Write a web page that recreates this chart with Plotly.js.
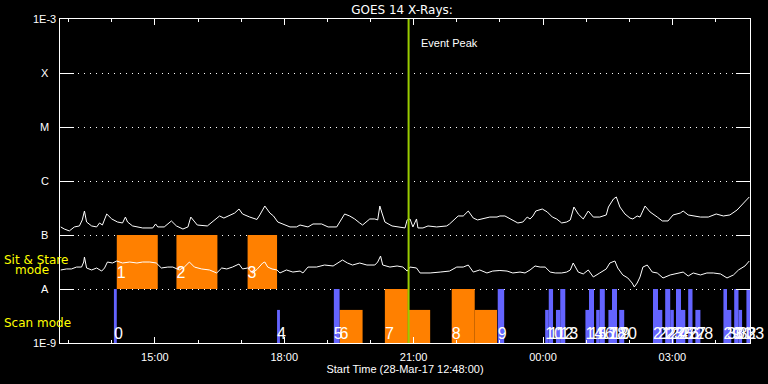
<!DOCTYPE html>
<html><head><meta charset="utf-8">
<script src="https://cdn.plot.ly/plotly-3.0.1.min.js"></script>
<style>html,body{margin:0;padding:0;background:#000;}#chart{width:768px;height:384px;}</style>
</head><body><div id="chart"></div>
<script>
const SANS = 'Liberation Sans, Arial, sans-serif';
const DEJA = 'DejaVu Sans, sans-serif';

const xrayStart = '2017-03-28 12:48';
const xrayEnd = '2017-03-29 04:48';
const eventPeak = '20:53';

// GOES 14 long channel (1-8 A), W/m^2
const longTime = ['12:49','12:54','13:01','13:08','13:15','13:19','13:22','13:25','13:32','13:39','13:43','13:47','13:53','14:00','14:08','14:15','14:19','14:22','14:29','14:43','14:57','15:01','15:04','15:13','15:23','15:30','15:39','15:46','15:50','15:55','15:59','16:13','16:20','16:30','16:36','16:44','16:51','16:57','17:02','17:12','17:22','17:26','17:33','17:40','17:45','17:51','17:58','18:08','18:17','18:22','18:33','18:40','18:52','19:01','19:13','19:21','19:24','19:31','19:38','19:45','19:49','19:59','20:06','20:10','20:13','20:16','20:20','20:30','20:38','20:48','20:51','20:55','20:59','21:04','21:06','21:13','21:20','21:32','21:46','21:50','22:02','22:09','22:16','22:23','22:29','22:39','22:46','22:56','23:00','23:07','23:17','23:25','23:32','23:38','23:42','23:46','23:50','23:59','00:06','00:13','00:19','00:26','00:33','00:38','00:43','00:49','00:56','01:03','01:10','01:19','01:28','01:31','01:38','01:42','01:47','01:54','02:01','02:05','02:11','02:15','02:22','02:29','02:39','02:46','02:54','03:01','03:11','03:15','03:22','03:29','03:39','03:50','04:01','04:11','04:20','04:30','04:39','04:47'];
const longFlux = [1.41e-7,1.29e-7,1.19e-7,1.41e-7,1.47e-7,1.90e-7,2.78e-7,1.74e-7,1.47e-7,1.41e-7,1.67e-7,1.53e-7,2.45e-7,1.98e-7,1.74e-7,1.67e-7,2.15e-7,1.74e-7,1.47e-7,1.35e-7,1.35e-7,1.60e-7,1.41e-7,1.41e-7,1.82e-7,1.47e-7,1.29e-7,1.41e-7,2.15e-7,1.82e-7,1.53e-7,1.47e-7,1.74e-7,2.25e-7,2.06e-7,2.35e-7,2.55e-7,3.03e-7,2.45e-7,2.15e-7,1.94e-7,2.35e-7,3.44e-7,2.55e-7,2.25e-7,1.74e-7,1.60e-7,1.41e-7,1.41e-7,1.53e-7,1.41e-7,1.60e-7,1.60e-7,1.41e-7,1.41e-7,2.15e-7,2.45e-7,2.25e-7,1.98e-7,1.67e-7,1.53e-7,1.98e-7,1.98e-7,1.90e-7,3.44e-7,2.55e-7,1.74e-7,1.47e-7,1.41e-7,1.35e-7,1.90e-7,1.98e-7,1.41e-7,1.98e-7,1.35e-7,1.35e-7,1.47e-7,1.41e-7,1.47e-7,1.60e-7,2.25e-7,2.25e-7,2.78e-7,2.06e-7,1.90e-7,2.06e-7,2.15e-7,2.15e-7,2.25e-7,2.25e-7,1.90e-7,1.67e-7,1.74e-7,2.15e-7,1.98e-7,2.25e-7,2.78e-7,3.03e-7,2.67e-7,2.15e-7,1.98e-7,1.67e-7,1.74e-7,1.90e-7,3.30e-7,2.45e-7,1.98e-7,2.78e-7,2.15e-7,2.15e-7,2.35e-7,3.30e-7,4.64e-7,5.06e-7,3.30e-7,2.45e-7,2.06e-7,1.98e-7,2.25e-7,2.15e-7,3.44e-7,2.67e-7,2.15e-7,1.82e-7,1.82e-7,2.35e-7,2.55e-7,2.78e-7,2.35e-7,2.25e-7,2.15e-7,2.15e-7,2.45e-7,2.25e-7,2.35e-7,2.90e-7,3.92e-7,5.06e-7];

// GOES 14 short channel (0.5-4 A), W/m^2
const shortTime = ['12:49','12:57','13:04','13:11','13:18','13:21','13:22','13:25','13:32','13:39','13:46','13:50','13:54','14:01','14:07','14:15','14:25','14:35','14:43','14:53','15:02','15:09','15:18','15:25','15:34','15:41','15:48','15:55','16:05','16:16','16:26','16:33','16:40','16:48','16:57','17:02','17:09','17:16','17:22','17:30','17:33','17:37','17:43','17:50','17:54','18:03','18:12','18:22','18:26','18:33','18:45','18:56','19:08','19:17','19:21','19:28','19:35','19:45','19:55','20:06','20:10','20:14','20:17','20:27','20:37','20:45','20:51','20:55','21:04','21:09','21:23','21:37','21:50','22:00','22:09','22:16','22:23','22:32','22:42','22:50','23:00','23:10','23:18','23:28','23:35','23:42','23:49','23:56','00:03','00:10','00:17','00:26','00:33','00:38','00:42','00:49','00:56','01:03','01:10','01:19','01:28','01:33','01:40','01:44','01:51','01:58','02:04','02:07','02:11','02:15','02:19','02:25','02:32','02:39','02:47','02:57','03:07','03:15','03:22','03:29','03:39','03:48','03:57','04:07','04:16','04:25','04:32','04:41','04:47'];
const shortFlux = [2.25e-8,2.35e-8,2.35e-8,2.55e-8,2.55e-8,3.16e-8,3.91e-8,2.45e-8,2.25e-8,2.45e-8,2.15e-8,2.45e-8,3.16e-8,3.03e-8,3.30e-8,3.03e-8,3.16e-8,3.03e-8,3.16e-8,3.16e-8,3.03e-8,2.45e-8,2.55e-8,2.55e-8,2.25e-8,2.55e-8,3.16e-8,2.55e-8,2.35e-8,2.25e-8,1.98e-8,2.45e-8,2.35e-8,2.55e-8,2.90e-8,2.35e-8,2.45e-8,1.98e-8,2.30e-8,3.03e-8,3.16e-8,2.55e-8,2.35e-8,2.25e-8,1.98e-8,2.25e-8,2.06e-8,2.15e-8,1.98e-8,2.55e-8,2.55e-8,2.78e-8,2.67e-8,3.16e-8,3.44e-8,3.03e-8,2.78e-8,3.03e-8,2.78e-8,2.78e-8,3.16e-8,4.08e-8,2.78e-8,2.55e-8,2.67e-8,2.55e-8,2.15e-8,2.55e-8,2.45e-8,1.98e-8,1.98e-8,2.06e-8,2.15e-8,2.55e-8,2.55e-8,2.78e-8,2.06e-8,2.25e-8,1.98e-8,2.15e-8,2.20e-8,2.15e-8,1.98e-8,2.06e-8,1.98e-8,2.25e-8,2.67e-8,2.55e-8,2.55e-8,2.06e-8,1.98e-8,1.98e-8,2.06e-8,2.25e-8,3.03e-8,2.06e-8,1.90e-8,2.25e-8,1.67e-8,1.98e-8,2.35e-8,3.03e-8,3.30e-8,2.45e-8,1.82e-8,1.60e-8,1.29e-8,1.09e-8,1.29e-8,1.67e-8,2.55e-8,2.78e-8,2.06e-8,1.98e-8,1.60e-8,1.82e-8,1.98e-8,2.06e-8,1.74e-8,1.98e-8,1.82e-8,1.98e-8,1.98e-8,1.90e-8,1.60e-8,1.82e-8,2.25e-8,2.67e-8,3.30e-8];

// Scan mode observations (blue)
const scanLabel = ['0','4','5','9','10','11','12','13','14','15','16','17','18','19','20','21','22','23','24','25','26','27','28','29','30','31','32','33','34'];
const scanStart = ['14:03','17:50','19:09','22:57','00:03','00:08','00:18','00:24','00:59','01:04','01:14','01:19','01:31','01:36','01:46','02:33','02:40','02:50','02:57','03:05','03:12','03:22','03:32','04:11','04:16','04:26','04:32','04:43','04:50'];
const scanEnd   = ['14:07','17:54','19:17','23:06','00:08','00:14','00:24','00:31','01:04','01:11','01:19','01:26','01:36','01:43','01:53','02:40','02:46','02:57','03:02','03:12','03:18','03:28','03:39','04:16','04:22','04:32','04:37','04:50','04:55'];
const scanBase  = [1e-9,1e-9,1e-9,1e-9,1e-9,1e-9,1e-9,1e-9,1e-9,1e-9,1e-9,1e-9,1e-9,1e-9,1e-9,1e-9,1e-9,1e-9,1e-9,1e-9,1e-9,1e-9,1e-9,1e-9,1e-9,1e-9,1e-9,1e-9,1e-9];
const scanTop   = [1e-8,4.1e-9,1e-8,1e-8,4.1e-9,1e-8,4.1e-9,1e-8,4.1e-9,1e-8,4.1e-9,1e-8,4.1e-9,1e-8,4.1e-9,1e-8,4.1e-9,1e-8,4.1e-9,1e-8,4.1e-9,1e-8,4.1e-9,1e-8,4.1e-9,1e-8,4.1e-9,1e-8,4.1e-9];

// Sit & Stare observations (orange)
const sitLabel = ['1','2','3','6','7','','8',''];
const sitStart = ['14:07','15:30','17:09','19:17','20:20','20:52','21:53','22:25'];
const sitEnd   = ['15:04','16:27','17:50','19:49','20:52','21:23','22:25','22:56'];
const sitBase  = [1e-8,1e-8,1e-8,1e-9,1e-9,1e-9,1e-9,1e-9];
const sitTop   = [1e-7,1e-7,1e-7,4.1e-9,1e-8,4.1e-9,1e-8,4.1e-9];

const yTickVals = [1e-9,1e-8,1e-7,1e-6,1e-5,1e-4,1e-3];
const yTickText = ['1E-9','A','B','C','M','X','1E-3'];

function toDate(hm){ const h = parseInt(hm.slice(0,2),10); return (h >= 12 ? '2017-03-28 ' : '2017-03-29 ') + hm; }
function ms(hm){ return new Date(toDate(hm).replace(' ','T') + ':00Z').getTime(); }

function barTrace(start, end, base, top, color){
  return {type:'bar', x:start.map(toDate), width:start.map((s,i)=>ms(end[i])-ms(s)), offset:0,
    base:base, y:top.map((t,i)=>t-base[i]), marker:{color:color, line:{width:0}},
    cliponaxis:false, hoverinfo:'skip'};
}

const labT = [], labY = [], labS = [];
function addLabels(lbl, start, base){
  lbl.forEach((l,i)=>{ if(!l) return; labT.push(toDate(start[i])); labY.push(base[i] > 5e-9 ? 1.35e-8 : 1e-9); labS.push(l); });
}
addLabels(sitLabel, sitStart, sitBase);
addLabels(scanLabel, scanStart, scanBase);

const data = [
  barTrace(sitStart, sitEnd, sitBase, sitTop, '#ff8000'),
  barTrace(scanStart, scanEnd, scanBase, scanTop, '#6464ff'),
  {type:'scatter', mode:'lines', x:longTime.map(toDate), y:longFlux, line:{color:'#ffffff', width:1}},
  {type:'scatter', mode:'lines', x:shortTime.map(toDate), y:shortFlux, line:{color:'#ffffff', width:1}},
  {type:'scatter', mode:'lines', x:[toDate(eventPeak), toDate(eventPeak)], y:[1e-9, 1e-3], line:{color:'#99cc00', width:2}},
  {type:'scatter', mode:'text', x:labT, y:labY, text:labS, textposition:'top right', cliponaxis:false,
    textfont:{family:SANS, size:16, color:'#ffffff'}}
];

const annotations = [];
yTickVals.forEach((v,i)=>annotations.push({xref:'paper', yref:'y', x:-15.5/690, y:Math.log10(v), text:yTickText[i],
  showarrow:false, xanchor:'center', yanchor:'middle', font:{family:SANS, size:11, color:'#fff'}}));
annotations.push({xref:'x', yref:'paper', x:toDate(eventPeak), y:0.926, xshift:10, text:'Event Peak', showarrow:false,
  xanchor:'left', yanchor:'middle', font:{family:SANS, size:11, color:'#fff'}});
annotations.push({xref:'paper', yref:'paper', x:-58/690, y:0.2577, text:'Sit & Stare', showarrow:false,
  xanchor:'left', yanchor:'middle', font:{family:DEJA, size:12, color:'#ffff00'}});
annotations.push({xref:'paper', yref:'paper', x:-47/690, y:0.2238, text:'mode', showarrow:false,
  xanchor:'left', yanchor:'middle', font:{family:DEJA, size:12, color:'#ffff00'}});
annotations.push({xref:'paper', yref:'paper', x:-58/690, y:0.0602, text:'Scan mode', showarrow:false,
  xanchor:'left', yanchor:'middle', font:{family:DEJA, size:12, color:'#ffff00'}});

const layout = {
  width:768, height:384, paper_bgcolor:'#000', plot_bgcolor:'#000',
  margin:{l:60, r:18, t:19, b:41}, showlegend:false, barmode:'overlay',
  title:{text:'GOES 14 X-Rays:', font:{family:DEJA, size:12, color:'#fff'}, x:402/768, xanchor:'center', xref:'container', y:1-9.5/384, yanchor:'middle', yref:'container'},
  xaxis:{type:'date', range:[xrayStart, xrayEnd], tick0:'2017-03-28 15:00', dtick:3*3600000, tickformat:'%H:%M',
    ticks:'inside', ticklen:6, tickwidth:1, tickcolor:'#fff',
    minor:{dtick:3600000, tick0:'2017-03-28 13:00', ticks:'inside', ticklen:3, tickcolor:'#fff', showgrid:false},
    showline:true, linecolor:'#fff', linewidth:1, mirror:'ticks', showgrid:false, zeroline:false,
    tickfont:{family:SANS, size:11, color:'#fff'}, ticklabelstandoff:4,
    title:{text:'Start Time (28-Mar-17 12:48:00)', font:{family:SANS, size:11, color:'#fff'}, standoff:2}},
  yaxis:{type:'log', range:[-9,-3], tickvals:yTickVals, showticklabels:false, ticks:'inside', ticklen:14, tickwidth:1, tickcolor:'#fff',
    showline:true, linecolor:'#fff', linewidth:1, mirror:'ticks', showgrid:true, gridcolor:'#fff', gridwidth:1, griddash:'1px,5px', zeroline:false},
  annotations:annotations
};

Plotly.newPlot('chart', data, layout, {staticPlot:true, displayModeBar:false});
</script></body></html>
